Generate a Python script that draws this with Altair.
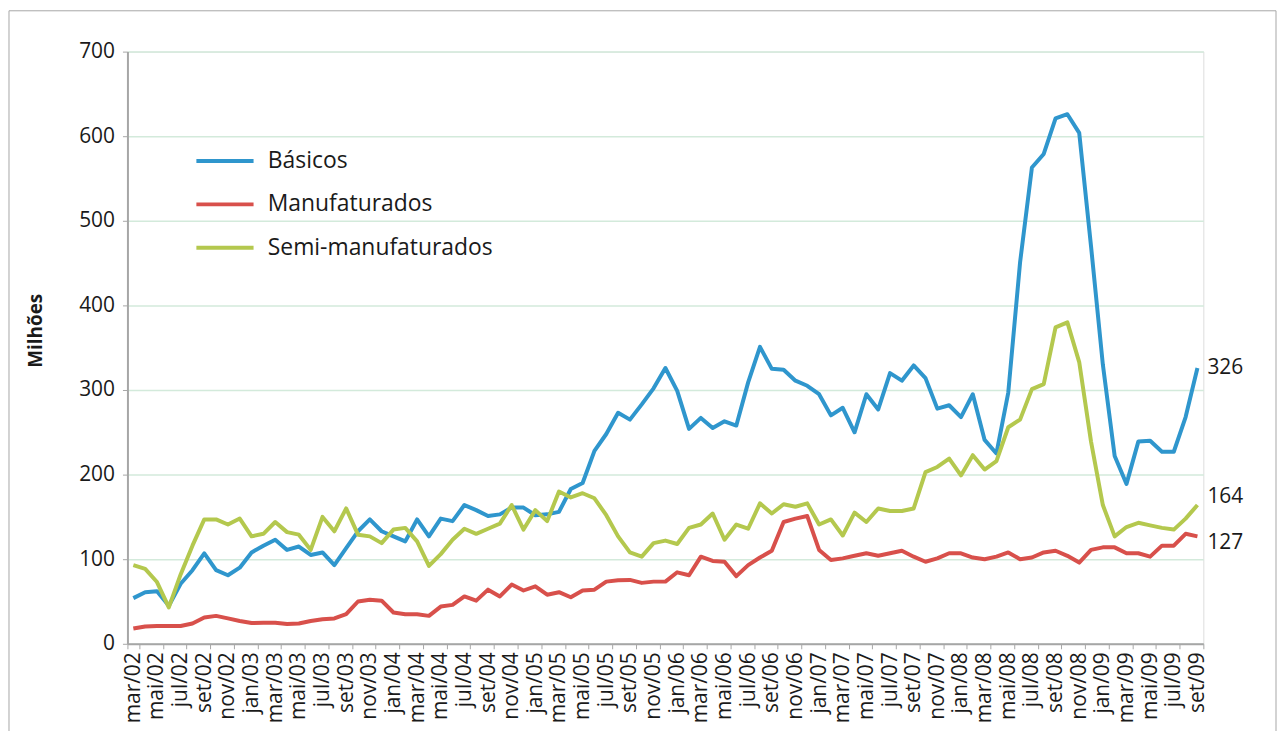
import altair as alt
import pandas as pd

MONTHS = ["jan", "fev", "mar", "abr", "mai", "jun", "jul", "ago", "set", "out", "nov", "dez"]
# monthly categories mar/02 .. set/09
labels = [f"{MONTHS[(2 + i) % 12]}/{(2 + (2 + i) // 12):02d}" for i in range(91)]
tick_labels = labels[::2]

series_names = ["Básicos", "Manufaturados", "Semi-manufaturados"]
series_colors = ["#2f96cd", "#d8504b", "#b4c84e"]

basicos = [54, 61, 62, 45, 71, 87, 107, 87, 81, 90,
           108, 116, 123, 111, 115, 105, 108, 93, 113, 133,
           147, 133, 127, 121, 147, 127, 148, 145, 164, 158,
           151, 153, 161, 161, 152, 153, 156, 183, 190, 228,
           248, 273, 265, 283, 302, 326, 299, 254, 267, 255,
           263, 258, 309, 351, 325, 324, 311, 305, 295, 270,
           279, 250, 295, 277, 320, 311, 329, 314, 278, 282,
           268, 295, 241, 225, 297, 451, 563, 579, 621, 626,
           604, 470, 330, 222, 189, 239, 240, 227, 227, 268,
           326]

manufaturados = [18, 20.5, 21, 21, 21, 24, 31, 33, 30, 27,
                 24.5, 25, 25, 23.5, 24, 27, 29, 30, 35, 50,
                 52, 51, 37, 35, 35, 33, 44, 46, 56, 51,
                 64, 56, 70, 63, 68, 58, 61, 55, 63, 64,
                 73.5, 75, 75.5, 72, 73.5, 73.5, 84.5, 81, 103, 98,
                 97, 80, 93, 102, 110, 144, 148, 151, 111, 99,
                 101, 104, 107, 104, 107, 110, 103, 97, 101, 107,
                 107, 102, 100, 103, 108, 100, 102, 108, 110, 104,
                 96, 111, 114, 114, 107, 107, 103, 116, 116, 130,
                 127]

semi = [93, 88.5, 73, 43, 82, 116, 147, 147, 141, 148,
        127, 130, 144, 132, 129, 111, 150, 133, 160, 129,
        127, 119, 135, 137, 121, 92, 106, 123, 136, 130,
        136, 142, 164, 135, 158, 145, 180, 173, 178, 172,
        152, 127, 108, 103, 119, 122, 118, 137, 141, 154,
        123, 141, 136, 166, 154, 165, 162, 166, 141, 147,
        128, 155, 144, 160, 157, 157, 160, 203, 209, 219,
        199, 223, 206, 216, 256, 265, 301, 307, 374, 380,
        333, 239, 164, 127, 138, 143, 140, 137, 135, 148,
        164]

end_labels = ["326", "127", "164"]

rows = []
for name, vals, lab in zip(series_names, [basicos, manufaturados, semi], end_labels):
    for i, v in enumerate(vals):
        rows.append({"mes": labels[i], "idx": i, "serie": name, "valor": v,
                     "rotulo": lab if i == len(vals) - 1 else ""})
df = pd.DataFrame(rows)

FONT = "Open Sans"
TXT = "#1a1a1a"

x_enc = alt.X(
    "mes:O",
    sort=labels,
    bandPosition=0.5,
    scale=alt.Scale(type="band", paddingInner=0, paddingOuter=0),
    axis=alt.Axis(
        title=None,
        values=tick_labels,
        labelAngle=-90,
        labelAlign="right",
        labelBaseline="middle",
        labelFont=FONT,
        labelFontSize=21,
        labelColor=TXT,
        labelPadding=3,
        tickBand="extent",
        tickSize=5,
        tickColor="#a6a6a6",
        domainColor="#a6a6a6",
        domainWidth=2,
        grid=False,
        labelOverlap=False,
    ),
)

y_enc = alt.Y(
    "valor:Q",
    scale=alt.Scale(domain=[0, 700], nice=False),
    axis=alt.Axis(
        title="Milhões",
        titleFont=FONT,
        titleFontSize=19,
        titleFontWeight="bold",
        titleColor=TXT,
        titleX=-92,
        titleY=280,
        titleAngle=-90,
        titleAlign="center",
        titleBaseline="middle",
        values=list(range(0, 701, 100)),
        labelFont=FONT,
        labelFontSize=21,
        labelColor=TXT,
        labelPadding=8,
        tickSize=5,
        tickColor="#a6a6a6",
        domainColor="#a6a6a6",
        domainWidth=2,
        gridColor="#d3eadb",
        gridWidth=1.5,
    ),
)

color_enc = alt.Color(
    "serie:N",
    scale=alt.Scale(domain=series_names, range=series_colors),
    legend=alt.Legend(
        title=None,
        orient="none",
        legendX=67,
        legendY=79,
        symbolType="stroke",
        symbolSize=3300,
        symbolStrokeWidth=4,
        labelFont=FONT,
        labelFontSize=23,
        labelColor=TXT,
        labelOffset=12,
        labelLimit=0,
        rowPadding=0.5,
    ),
)

lines = alt.Chart(df).mark_line(strokeWidth=4, strokeJoin="round").encode(
    x=x_enc, y=y_enc, color=color_enc
)

def end_text(name, dy):
    return alt.Chart(df).transform_filter(
        (alt.datum.serie == name) & (alt.datum.rotulo != "")
    ).mark_text(align="left", baseline="middle", dx=10, dy=dy, font=FONT,
                fontSize=21, color=TXT).encode(
        x=alt.X("mes:O", sort=labels, bandPosition=0.5),
        y=alt.Y("valor:Q"),
        text="rotulo:N",
    )

frame = alt.Chart(pd.DataFrame({"a": [0]})).mark_rect(
    fillOpacity=0, stroke="#a6a6a6", strokeWidth=1
).encode(
    x=alt.value(-119), x2=alt.value(1154), y=alt.value(-41), y2=alt.value(720)
)

chart = alt.layer(
    frame, lines,
    end_text("Básicos", 0), end_text("Semi-manufaturados", -8), end_text("Manufaturados", 7),
).properties(
    width=1081, height=595, padding=0
).configure_view(stroke=None).configure(background="white")

chart.save("out.html", embed_options={"renderer": "svg", "actions": False})
